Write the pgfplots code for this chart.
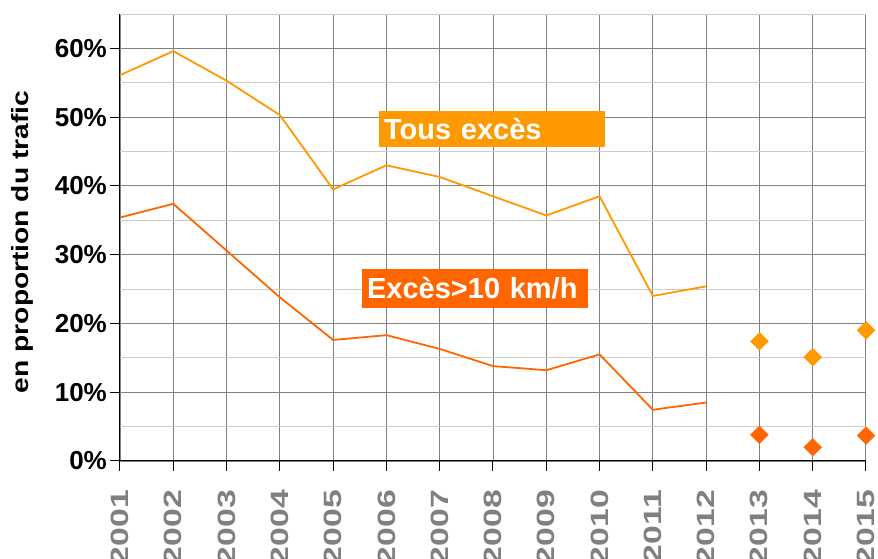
\documentclass[border=0pt]{standalone}
\usepackage{fontspec}
\setmainfont{Liberation Sans}
\usepackage{graphicx}
\usepackage{pgfplots}
\pgfplotsset{compat=1.18}
\definecolor{oA}{HTML}{FF9900}
\definecolor{oB}{HTML}{FF6600}
\definecolor{yrgray}{HTML}{808080}
\newcommand\yl[1]{\scalebox{1.35}[1]{#1}}
\begin{document}
\begin{tikzpicture}
\useasboundingbox (-120pt,-98pt) rectangle (758pt,461pt);
\begin{axis}[
  at={(0,0)}, anchor=south west,
  scale only axis, width=746pt, height=447pt,
  xmin=2001, xmax=2015, ymin=0, ymax=65,
  axis lines=left, axis line style={-, black, line width=1pt},
  xtick={2001,2002,...,2015},
  xticklabels={\yl{2001},\yl{2002},\yl{2003},\yl{2004},\yl{2005},\yl{2006},\yl{2007},\yl{2008},\yl{2009},\yl{2010},\yl{2011},\yl{2012},\yl{2013},\yl{2014},\yl{2015}},
  ytick={0,10,20,30,40,50,60},
  yticklabels={0\%,10\%,20\%,30\%,40\%,50\%,60\%},
  minor ytick={5,15,25,35,45,55,65},
  xmajorgrids, ymajorgrids, yminorgrids,
  major grid style={draw=black!50, line width=0.9pt},
  minor grid style={draw=black!20, line width=0.9pt},
  tick align=outside, major tick length=10pt, minor tick length=0pt,
  tick style={black, line width=1pt},
  yticklabel style={font=\fontsize{26}{30}\selectfont\bfseries, inner sep=3pt},
  xticklabel style={font=\fontsize{25}{28}\selectfont\bfseries, text=yrgray, rotate=90, anchor=east, inner xsep=19pt, inner ysep=0pt},
  ylabel={\scalebox{1.2}[1]{en proportion du trafic}},
  ylabel style={font=\fontsize{23.5}{27}\selectfont\bfseries, at={(axis description cs:-0.1314,0.49)}, anchor=center},
  clip=false,
]
\addplot[oA, line width=1.8pt] coordinates {
(2001,56.1) (2002,59.6) (2003,55.3) (2004,50.3) (2005,39.5) (2006,43.0)
(2007,41.3) (2008,38.5) (2009,35.7) (2010,38.5) (2011,24.0) (2012,25.4)};
\addplot[oB, line width=1.8pt] coordinates {
(2001,35.4) (2002,37.4) (2003,30.6) (2004,23.8) (2005,17.6) (2006,18.3)
(2007,16.3) (2008,13.8) (2009,13.2) (2010,15.5) (2011,7.45) (2012,8.5)};
\addplot[only marks, mark=square*, mark size=6.3pt, mark options={rotate=45, fill=oA, draw=oA}] coordinates {
(2013,17.4) (2014,15.1) (2015,19.0)};
\addplot[only marks, mark=square*, mark size=6.3pt, mark options={rotate=45, fill=oB, draw=oB}] coordinates {
(2013,3.8) (2014,2.0) (2015,3.7)};
\node[fill=oA, text=white, anchor=west, inner xsep=5pt, inner ysep=0pt, text width=216pt, minimum height=36pt, align=left, font=\fontsize{29}{34}\selectfont\bfseries] at (axis cs:2005.86,48.3) {Tous excès};
\node[fill=oB, text=white, anchor=west, inner xsep=5pt, inner ysep=0pt, text width=216pt, minimum height=39pt, align=left, font=\fontsize{29}{34}\selectfont\bfseries] at (axis cs:2005.54,25.1) {Excès>10 km/h};
\end{axis}
\end{tikzpicture}
\end{document}
